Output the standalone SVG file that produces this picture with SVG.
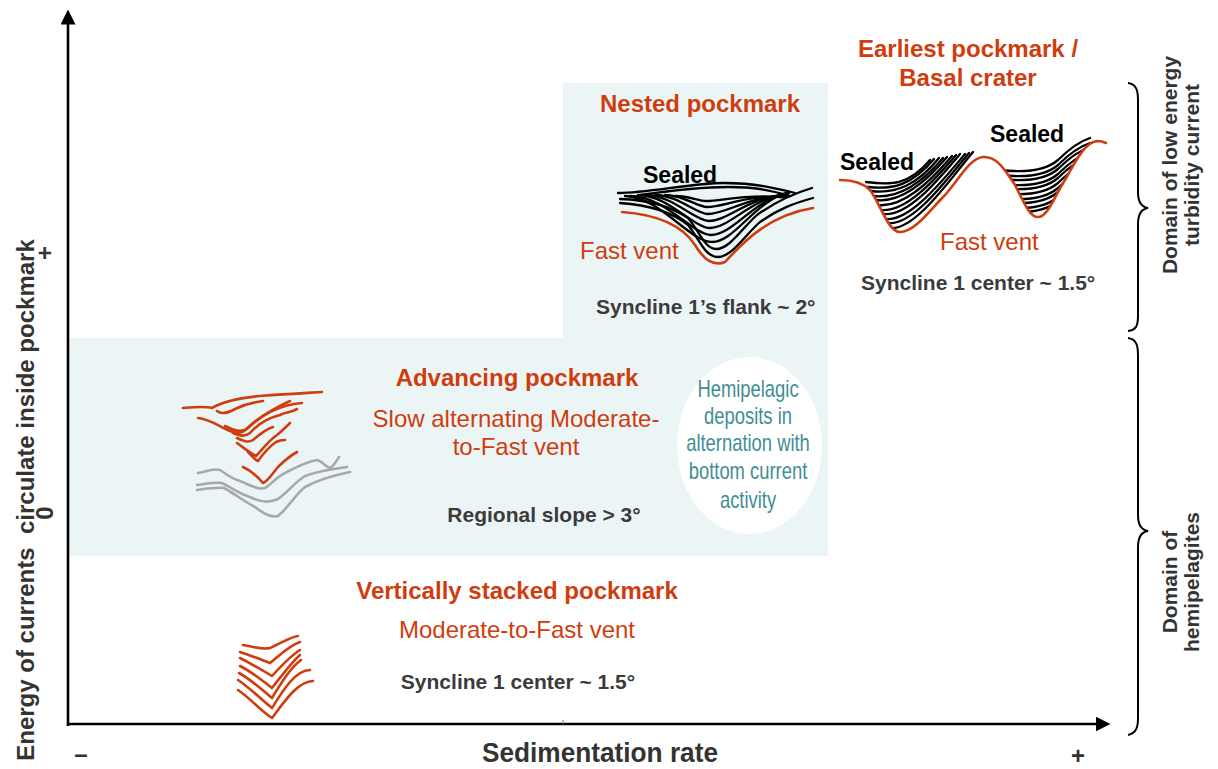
<svg xmlns="http://www.w3.org/2000/svg" width="1218" height="769" viewBox="0 0 1218 769">
  <defs>
    <style>
      .sans { font-family: "Liberation Sans", Arial, sans-serif; }
      .title { font-family: "Liberation Sans", Arial, sans-serif; font-weight: bold; font-size: 24px; fill: #CF3D0E; }
      .vent { font-family: "Liberation Sans", Arial, sans-serif; font-size: 24px; fill: #CF3D0E; }
      .slope { font-family: "Liberation Sans", Arial, sans-serif; font-weight: bold; font-size: 21px; fill: #3B3B3B; }
      .sealed { font-family: "Liberation Sans", Arial, sans-serif; font-weight: bold; font-size: 23px; fill: #000; }
      .axis-label { font-family: "Liberation Sans", Arial, sans-serif; font-weight: bold; fill: #333; }
      .domain { font-family: "Liberation Sans", Arial, sans-serif; font-weight: bold; font-size: 21px; fill: #333; }
      .teal { font-family: "Liberation Sans", Arial, sans-serif; font-size: 23px; fill: #3F8E95; }
      .or { fill: none; stroke: #CF3D0E; stroke-width: 2.6; stroke-linecap: round; stroke-linejoin: round; }
      .bk { fill: none; stroke: #000; stroke-width: 2.3; stroke-linecap: round; stroke-linejoin: round; }
      .gy { fill: none; stroke: #A8A8A8; stroke-width: 2.6; stroke-linecap: round; stroke-linejoin: round; }
      .brace { fill: none; stroke: #000; stroke-width: 2; }
    </style>
    <marker id="arrow" viewBox="0 0 10 10" refX="1" refY="5" markerUnits="userSpaceOnUse" markerWidth="15" markerHeight="15" orient="auto">
      <path d="M0,0 L10,5 L0,10 z" fill="#000"/>
    </marker>
    <!-- area above the basal crater surface; infill is trimmed to it -->
    <clipPath id="craterClip">
      <path d="M830,60 L840,60 L840,180 C852,180 862,182 870,190 C880,203 888,232 900,232 C915,232 930,210 945,195 C960,178 970,158 983,157 C997,156 1005,170 1015,185 C1025,205 1030,217 1038,217 C1048,217 1055,195 1065,180 C1075,162 1085,142 1097,141 C1102,141 1104,142 1110,143 L1110,60 Z"/>
    </clipPath>
  </defs>

  <rect width="1218" height="769" fill="#fff"/>

  <!-- shaded domain of bottom-current influence -->
  <g id="shading">
    <path d="M68,338 L563,338 L563,83 L828,83 L828,556 L68,556 Z" fill="#EBF5F6"/>
  </g>

  <!-- axes -->
  <g id="connectors">
    <line x1="68" y1="726" x2="68" y2="23" stroke="#000" stroke-width="2.6" marker-end="url(#arrow)"/>
    <line x1="67" y1="724" x2="1097" y2="724" stroke="#000" stroke-width="2.6" marker-end="url(#arrow)"/>
    <line x1="563" y1="720" x2="563" y2="724" stroke="#777" stroke-width="1"/>
  </g>

  <g id="y-axis-label">
    <text class="axis-label" font-size="24" xml:space="preserve" text-anchor="middle" transform="translate(34,500) rotate(-90)">Energy of currents  circulate inside pockmark</text>
    <text class="axis-label" font-size="24" text-anchor="middle" transform="translate(53,253) rotate(-90)">+</text>
    <text class="axis-label" font-size="24" text-anchor="middle" transform="translate(53,513) rotate(-90)">0</text>
  </g>

  <g id="x-axis-label">
    <text class="axis-label" font-size="28" x="482" y="762" textLength="236" lengthAdjust="spacingAndGlyphs">Sedimentation rate</text>
    <text class="axis-label" font-size="24" text-anchor="middle" x="81" y="762">–</text>
    <text class="axis-label" font-size="24" text-anchor="middle" x="1078" y="764">+</text>
  </g>

  <!-- Nested pockmark -->
  <g id="nested-pockmark">
    <text class="title" text-anchor="middle" x="700" y="112">Nested pockmark</text>
    <path class="bk" d="M618,193 C650,193 690,183 725,183 C755,183 775,188 795,193"/>
    <path class="bk" d="M640,195 C668,191 700,187 728,187 C755,187 770,190 790,196"/>
    <path class="bk" d="M620,203 C650,205 672,212 688,225 C700,240 705,257 718,257 C732,257 745,235 760,222 C780,208 795,203 813,198"/>
    <path class="bk" d="M620,199 C650,200 672,207 688,218 C700,232 705,249 716,249 C730,249 742,228 757,215 C778,200 795,193 812,188"/>
    <path class="bk" d="M625,196 C660,197 690,242 712,242 C735,242 755,200 790,192"/>
    <path class="bk" d="M630,196 C665,196 693,235 711,235 C733,235 755,198 789,193"/>
    <path class="bk" d="M638,195 C668,195 694,228 710,228 C730,228 752,197 788,194"/>
    <path class="bk" d="M646,195 C672,195 695,221 709,221 C728,221 750,196 787,195"/>
    <path class="bk" d="M655,195 C678,195 696,214 708,214 C726,214 748,196 786,196"/>
    <path class="bk" d="M665,195 C684,195 697,207 707,207 C724,207 745,195 784,197"/>
    <path class="bk" d="M675,196 C690,196 698,201 706,201 C722,201 742,194 782,197"/>
    <path class="or" d="M622,212 C650,214 680,222 695,245 C705,262 715,266 725,262 C745,240 770,215 813,208"/>
    <text class="sealed" x="643" y="183">Sealed</text>
    <text class="vent" x="580" y="259">Fast vent</text>
    <text class="slope" x="596" y="314">Syncline 1’s flank ~ 2°</text>
  </g>

  <!-- Earliest pockmark / basal crater -->
  <g id="earliest-pockmark">
    <text class="title" text-anchor="middle" x="968" y="57">Earliest pockmark /</text>
    <text class="title" text-anchor="middle" x="968" y="86">Basal crater</text>
    <g clip-path="url(#craterClip)">
      <path class="bk" d="M866,182 C891,185 908,186 930,160"/>
      <path class="bk" d="M868,187 C893,190 912,185 934,159"/>
      <path class="bk" d="M871,191 C896,194 917,185 939,158"/>
      <path class="bk" d="M873,196 C898,199 921,184 943,158"/>
      <path class="bk" d="M876,200 C901,203 925,183 947,157"/>
      <path class="bk" d="M878,205 C903,208 930,182 952,156"/>
      <path class="bk" d="M880,210 C905,213 934,181 956,155"/>
      <path class="bk" d="M883,214 C908,217 938,180 960,154"/>
      <path class="bk" d="M885,219 C910,222 943,180 965,154"/>
      <path class="bk" d="M888,223 C913,226 947,179 969,153"/>
      <path class="bk" d="M890,228 C915,231 951,178 973,152"/>
      <path class="bk" d="M1000,170 C1025,173 1045,171 1058,160 C1068,150 1078,142 1090,138"/>
      <path class="bk" d="M1000,175 C1025,178 1045,176 1058,165 C1068,155 1078,147 1090,143"/>
      <path class="bk" d="M1000,179 C1025,182 1045,180 1058,169 C1068,159 1078,151 1090,147"/>
      <path class="bk" d="M1000,184 C1025,187 1045,185 1058,174 C1068,164 1078,156 1090,152"/>
      <path class="bk" d="M1000,188 C1025,191 1045,189 1058,178 C1068,168 1078,160 1090,156"/>
      <path class="bk" d="M1000,193 C1025,196 1045,194 1058,183 C1068,173 1078,165 1090,161"/>
      <path class="bk" d="M1000,198 C1025,201 1045,199 1058,188 C1068,178 1078,170 1090,166"/>
      <path class="bk" d="M1000,202 C1025,205 1045,203 1058,192 C1068,182 1078,174 1090,170"/>
      <path class="bk" d="M1000,207 C1025,210 1045,208 1058,197 C1068,187 1078,179 1090,175"/>
      <path class="bk" d="M1000,211 C1025,214 1045,212 1058,201 C1068,191 1078,183 1090,179"/>
    </g>
    <path class="or" d="M840,180 C852,180 862,182 870,190 C880,203 888,232 900,232 C915,232 930,210 945,195 C960,178 970,158 983,157 C997,156 1005,170 1015,185 C1025,205 1030,217 1038,217 C1048,217 1055,195 1065,180 C1075,162 1085,142 1097,141 C1102,141 1104,142 1106,143"/>
    <text class="sealed" x="840" y="170">Sealed</text>
    <text class="sealed" x="990" y="142">Sealed</text>
    <text class="vent" x="940" y="250">Fast vent</text>
    <text class="slope" x="861" y="290">Syncline 1 center ~ 1.5°</text>
  </g>

  <!-- Advancing pockmark -->
  <g id="advancing-pockmark">
    <path class="gy" d="M198,473 C205,472 212,468 220,470 C226,474 230,478 240,481 C250,485 258,490 265,488 C272,484 276,477 285,473 C295,468 305,462 317,460 C322,461 326,467 330,468 C334,466 336,462 339,457"/>
    <path class="gy" d="M197,485 C205,484 215,482 222,483 C232,488 240,494 250,497 C260,502 270,503 278,499 C288,492 295,482 305,476 C318,471 333,469 347,467"/>
    <path class="gy" d="M197,490 C205,489 215,487 224,488 C235,494 245,502 255,507 C263,513 270,518 278,516 C288,508 295,495 305,487 C318,480 335,475 350,472"/>
    <path class="or" d="M183,408 C195,407 205,406 212,408 C222,402 240,398 260,396 C285,394 305,393 322,392"/>
    <path class="or" d="M217,411 C222,415 228,413 235,409 C245,404 255,402 263,401"/>
    <path class="or" d="M198,418 C210,419 220,427 230,431 C236,433 240,434 244,431 C256,420 270,410 290,401"/>
    <path class="or" d="M225,426 C235,431 242,433 248,428 C260,415 280,405 302,403"/>
    <path class="or" d="M233,433 C240,436 245,437 250,433 C258,424 268,418 280,415 C286,412 290,413 297,409"/>
    <path class="or" d="M237,438 C243,441 248,443 253,440 C260,434 266,429 273,427"/>
    <path class="or" d="M237,443 C243,447 250,453 256,456 C262,450 268,441 277,435 C282,431 286,427 290,423"/>
    <path class="or" d="M248,452 C252,456 255,460 258,461 C263,454 270,446 276,442 C280,440 283,440 285,440"/>
    <path class="or" d="M243,467 C250,470 257,476 263,483 C268,481 272,474 278,467 C284,461 290,456 297,452"/>
    <text class="title" text-anchor="middle" x="517" y="386">Advancing pockmark</text>
    <text class="vent" text-anchor="middle" x="516" y="427">Slow alternating Moderate-</text>
    <text class="vent" text-anchor="middle" x="516" y="455">to-Fast vent</text>
    <text class="slope" text-anchor="middle" x="544" y="522">Regional slope &gt; 3°</text>
  </g>

  <!-- hemipelagic note -->
  <g id="hemipelagic-note">
    <ellipse cx="749.5" cy="445.5" rx="72.5" ry="88.5" fill="#fff"/>
    <g transform="translate(748,0) scale(0.8,1)">
      <text class="teal" text-anchor="middle" x="0" y="397">Hemipelagic</text>
      <text class="teal" text-anchor="middle" x="0" y="424">deposits in</text>
      <text class="teal" text-anchor="middle" x="0" y="451">alternation with</text>
      <text class="teal" text-anchor="middle" x="0" y="479">bottom current</text>
      <text class="teal" text-anchor="middle" x="0" y="508">activity</text>
    </g>
  </g>

  <!-- Vertically stacked pockmark -->
  <g id="stacked-pockmark">
    <path class="or" d="M243,645 C255,647 262,650 270,648 C282,643 290,637 298,636"/>
    <path class="or" d="M240,652 C252,656 262,660 270,663 C280,655 290,645 300,642"/>
    <path class="or" d="M240,658 C252,664 262,670 272,676 C282,665 292,655 300,650"/>
    <path class="or" d="M240,666 C252,672 262,680 272,688 C282,675 292,662 300,655"/>
    <path class="or" d="M239,673 C252,680 262,690 272,698 C280,685 290,668 301,660"/>
    <path class="or" d="M238,680 C250,688 262,700 272,708 C282,692 295,670 310,670"/>
    <path class="or" d="M238,690 C250,698 262,712 272,718 C284,702 298,681 313,681"/>
    <text class="title" text-anchor="middle" x="517" y="599">Vertically stacked pockmark</text>
    <text class="vent" text-anchor="middle" x="517" y="638">Moderate-to-Fast vent</text>
    <text class="slope" text-anchor="middle" x="518" y="689">Syncline 1 center ~ 1.5°</text>
  </g>

  <!-- domain braces -->
  <g id="domain-turbidity">
    <path class="brace" d="M1128,83 C1136,84 1138,90 1138,100 L1138,192 C1138,202 1141,207 1148,208 C1141,209 1138,214 1138,224 L1138,316 C1138,326 1136,330 1128,331"/>
    <text class="domain" text-anchor="middle" transform="translate(1177,165) rotate(-90)">Domain of low energy</text>
    <text class="domain" text-anchor="middle" transform="translate(1199,165) rotate(-90)">turbidity current</text>
  </g>
  <g id="domain-hemipelagites">
    <path class="brace" d="M1128,338 C1136,339 1138,345 1138,355 L1138,515 C1138,525 1141,530 1148,531 C1141,532 1138,537 1138,547 L1138,718 C1138,728 1136,733 1128,735"/>
    <text class="domain" text-anchor="middle" transform="translate(1177,582) rotate(-90)">Domain of</text>
    <text class="domain" text-anchor="middle" transform="translate(1199,582) rotate(-90)">hemipelagites</text>
  </g>
</svg>
